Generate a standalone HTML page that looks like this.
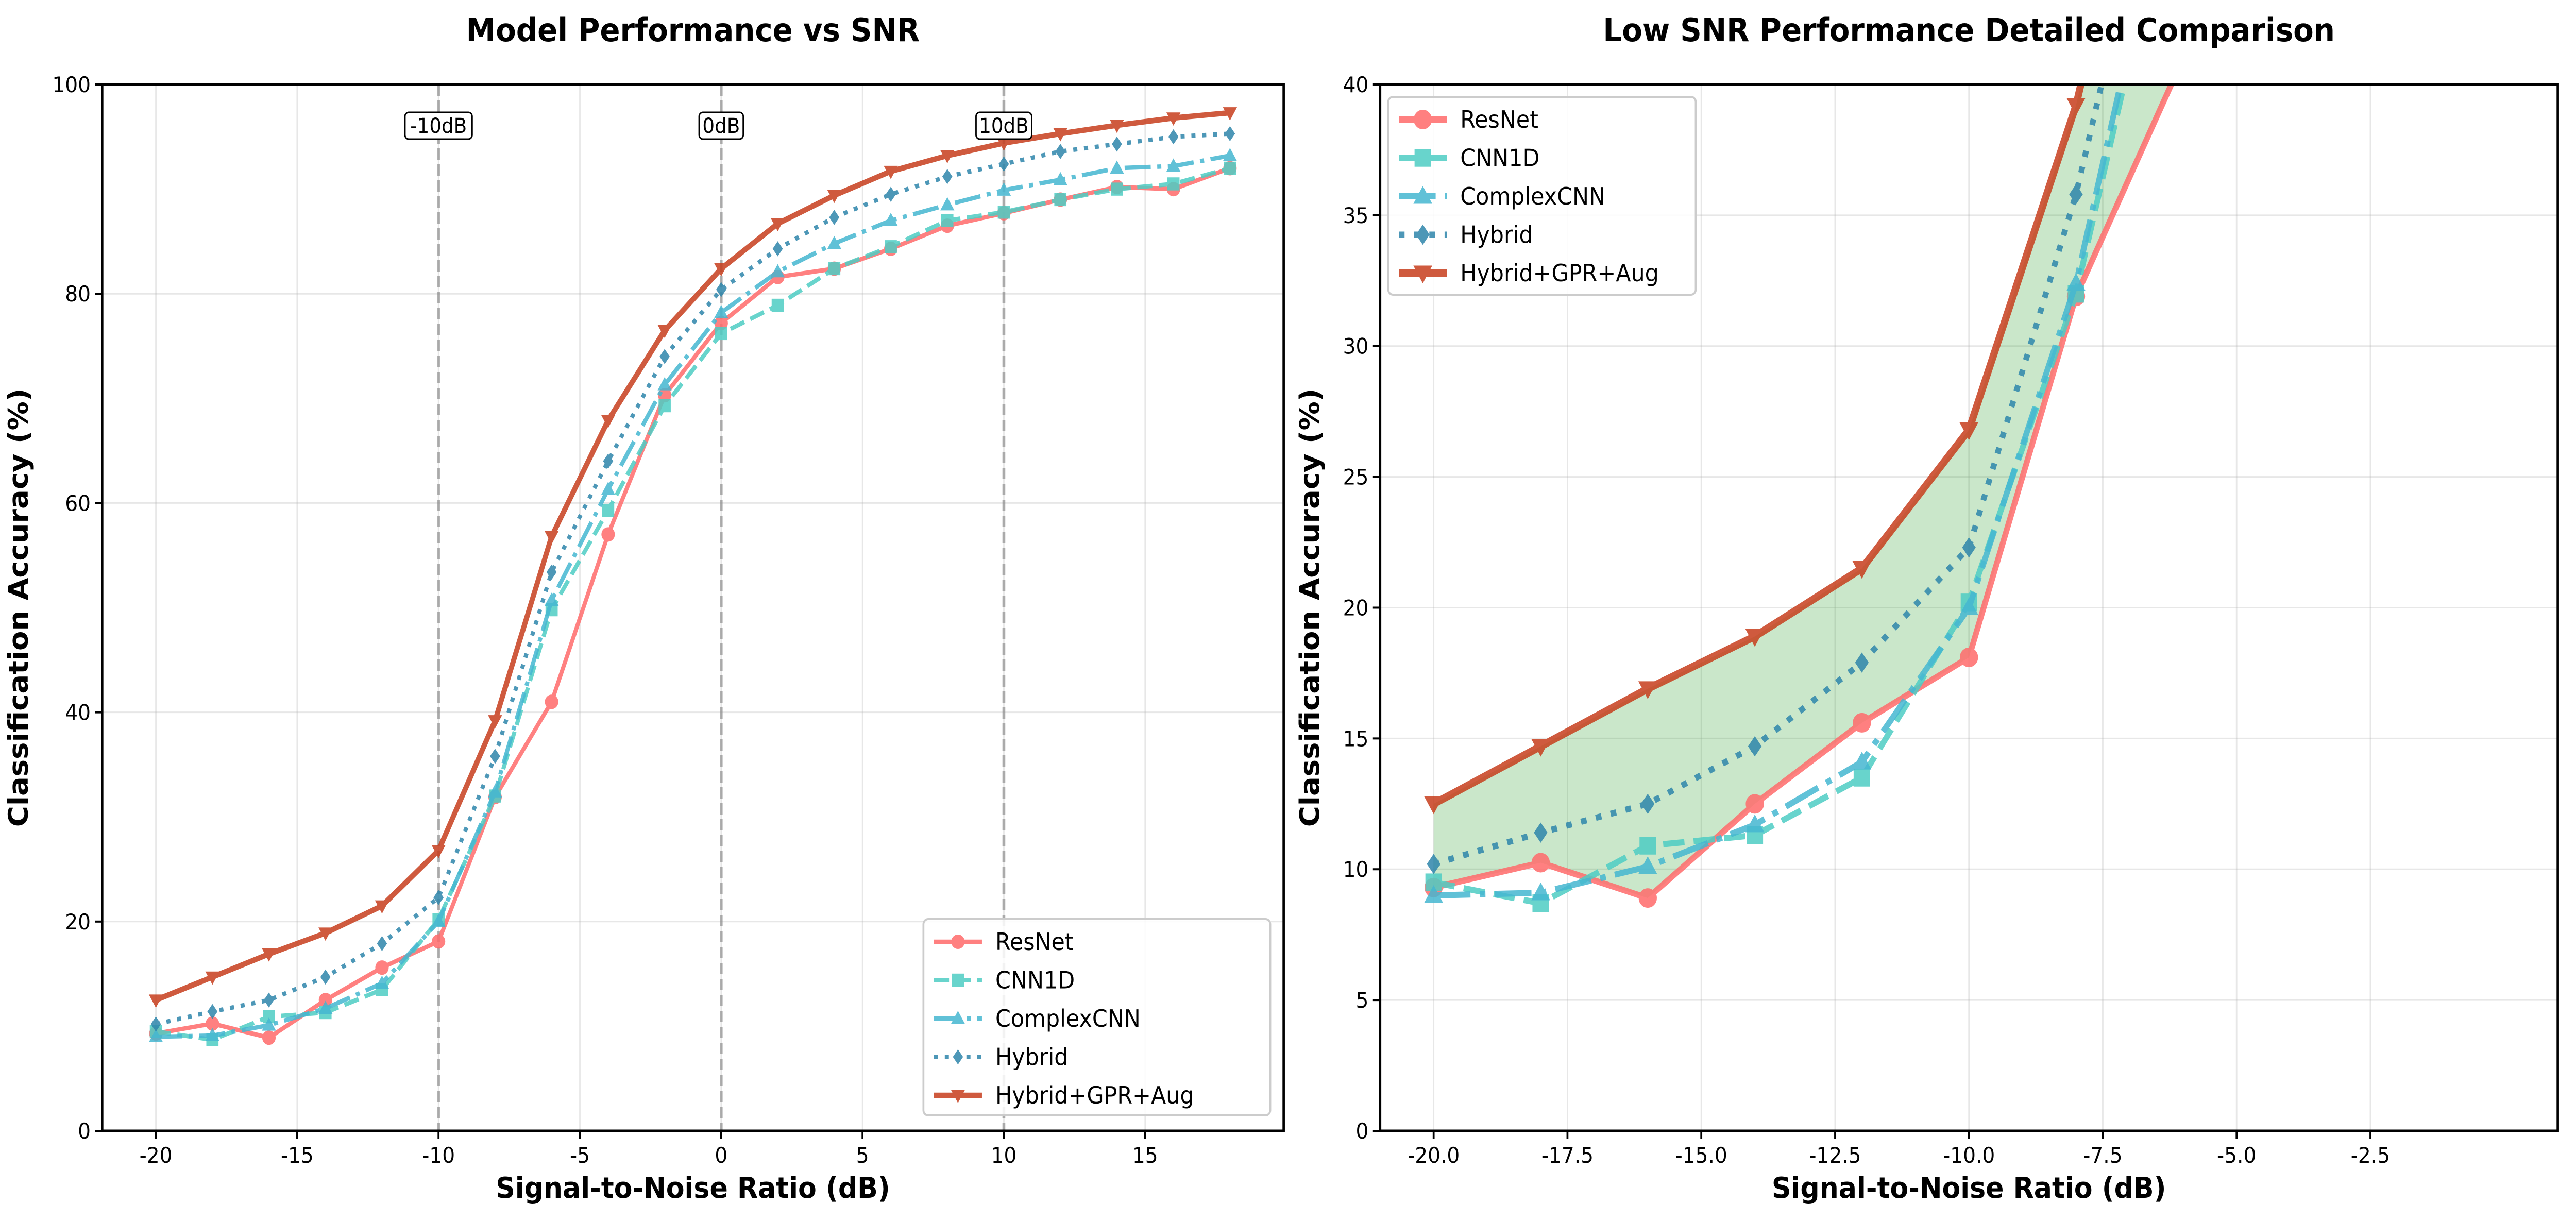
<!DOCTYPE html>
<html><head><meta charset="utf-8"><style>
html,body{margin:0;padding:0;background:#fff;width:100%;height:100%;overflow:hidden;}
svg{display:block;width:100vw;height:100vh;font-family:"DejaVu Sans","Liberation Sans",sans-serif;}
</style></head><body>
<svg id="fig" viewBox="0 0 5370 2370" preserveAspectRatio="none" xmlns="http://www.w3.org/2000/svg" overflow="hidden">
<rect width="5370" height="2370" fill="#fff"/>
</svg>
<script>
const snr = [-20,-18,-16,-14,-12,-10,-8,-6,-4,-2,0,2,4,6,8,10,12,14,16,18];
const resnet = [9.3,10.25,8.9,12.5,15.6,18.1,31.9,41.0,57.0,70.3,77.2,81.6,82.4,84.3,86.5,87.7,89.0,90.2,90.0,92.0];
const cnn1d = [9.5,8.7,10.9,11.3,13.5,20.2,32.0,49.8,59.3,69.3,76.2,78.9,82.4,84.5,87.0,87.8,89.0,90.0,90.5,92.0];
const complexcnn = [9.0,9.1,10.1,11.7,14.1,20.0,32.4,50.7,61.3,71.3,78.2,82.1,84.8,87.0,88.5,89.9,90.9,92.0,92.2,93.2];
const hybrid = [10.2,11.4,12.5,14.7,17.9,22.3,35.8,53.4,64.0,74.0,80.4,84.3,87.3,89.5,91.2,92.4,93.6,94.3,95.0,95.3];
const hybridGpr = [12.5,14.7,16.9,18.9,21.5,26.8,39.2,56.8,67.9,76.5,82.4,86.7,89.4,91.7,93.2,94.4,95.3,96.1,96.8,97.3];
const leftXTicks = [-20,-15,-10,-5,0,5,10,15];
const leftYTicks = [0,20,40,60,80,100];
const rightXTicks = [-20,-17.5,-15,-12.5,-10,-7.5,-5,-2.5];
const rightYTicks = [0,5,10,15,20,25,30,35,40];
const refLines = [-10,0,10];
const refLabels = ["-10dB","0dB","10dB"];

const NS="http://www.w3.org/2000/svg";
const svg=document.getElementById('fig');
function mk(tag,attrs,parent){const e=document.createElementNS(NS,tag);for(const k in attrs)e.setAttribute(k,attrs[k]);(parent||svg).appendChild(e);return e;}

const seriesDefs=[
 {name:"ResNet",data:resnet,color:"#FF6B6B",dash:null,marker:"o",key:"resnet"},
 {name:"CNN1D",data:cnn1d,color:"#4ECDC4",dash:[3.7,1.6],marker:"s",key:"cnn1d"},
 {name:"ComplexCNN",data:complexcnn,color:"#45B7D1",dash:[6.4,1.6,1,1.6],marker:"^",key:"complexcnn"},
 {name:"Hybrid",data:hybrid,color:"#2E86AB",dash:[1,1.65],marker:"D",key:"hybrid"},
 {name:"Hybrid+GPR+Aug",data:hybridGpr,color:"#C73E1D",dash:null,marker:"v",key:"hybrid-gpr-aug"}
];

function marker(g,type,x,y,size,color,name){
  const r=size/2;let e;
  if(type==="o") e=mk('circle',{cx:x,cy:y,r:r},g);
  else if(type==="s") e=mk('rect',{x:x-r*0.9,y:y-r*0.9,width:r*1.8,height:r*1.8},g);
  else if(type==="^") e=mk('polygon',{points:`${x},${y-r} ${x-r},${y+r*0.75} ${x+r},${y+r*0.75}`},g);
  else if(type==="v") e=mk('polygon',{points:`${x},${y+r} ${x-r},${y-r*0.75} ${x+r},${y-r*0.75}`},g);
  else e=mk('polygon',{points:`${x},${y-r} ${x+r*0.72},${y} ${x},${y+r} ${x-r*0.72},${y}`},g);
  e.setAttribute('fill',color);e.setAttribute('stroke',color);e.setAttribute('stroke-width',2);
  
  
  return e;
}

function clipSeg(x0,y0,x1,y1,L,T,R,B){
  let t0=0,t1=1;const dx=x1-x0,dy=y1-y0;
  const p=[-dx,dx,-dy,dy],q=[x0-L,R-x0,y0-T,B-y0];
  for(let i=0;i<4;i++){
    if(p[i]===0){if(q[i]<0)return null;}
    else{const r=q[i]/p[i];if(p[i]<0){if(r>t1)return null;if(r>t0)t0=r;}else{if(r<t0)return null;if(r<t1)t1=r;}}
  }
  return [x0+t0*dx,y0+t0*dy,x0+t1*dx,y0+t1*dy];
}
function clippedPath(pts,L,T,R,B){
  let d="",last=null;
  for(let i=0;i<pts.length-1;i++){
    const c=clipSeg(pts[i][0],pts[i][1],pts[i+1][0],pts[i+1][1],L,T,R,B);
    if(!c){last=null;continue;}
    if(!last||Math.abs(last[0]-c[0])>0.01||Math.abs(last[1]-c[1])>0.01) d+=`M${c[0].toFixed(2)},${c[1].toFixed(2)}`;
    d+=`L${c[2].toFixed(2)},${c[3].toFixed(2)}`;
    last=[c[2],c[3]];
  }
  return d;
}
function clipPoly(poly,L,T,R,B){
  const edges=[[p=>p[0]>=L,(a,b)=>{const t=(L-a[0])/(b[0]-a[0]);return [L,a[1]+t*(b[1]-a[1])];}],
               [p=>p[0]<=R,(a,b)=>{const t=(R-a[0])/(b[0]-a[0]);return [R,a[1]+t*(b[1]-a[1])];}],
               [p=>p[1]>=T,(a,b)=>{const t=(T-a[1])/(b[1]-a[1]);return [a[0]+t*(b[0]-a[0]),T];}],
               [p=>p[1]<=B,(a,b)=>{const t=(B-a[1])/(b[1]-a[1]);return [a[0]+t*(b[0]-a[0]),B];}]];
  let out=poly;
  for(const [inside,inter] of edges){
    const inp=out;out=[];if(!inp.length)break;
    for(let i=0;i<inp.length;i++){
      const cur=inp[i],prev=inp[(i+inp.length-1)%inp.length];
      if(inside(cur)){if(!inside(prev))out.push(inter(prev,cur));out.push(cur);}
      else if(inside(prev))out.push(inter(prev,cur));
    }
  }
  return out;
}

function panel(cfg){
  const {L,R,T,B,xmin,xmax,ymin,ymax,xTicks,yTicks,xFmt,lw,ms,id}=cfg;
  const sx=v=>L+(v-xmin)/(xmax-xmin)*(R-L);
  const sy=v=>B-(v-ymin)/(ymax-ymin)*(B-T);
  const g=mk('g',{});
  
  
  const clipId=id+'-clip';
  const cp=mk('clipPath',{id:clipId},g);mk('rect',{x:L,y:T,width:R-L,height:B-T},cp);
  xTicks.forEach(t=>{const l=mk('line',{x1:sx(t),x2:sx(t),y1:T,y2:B,stroke:"#b0b0b0","stroke-opacity":0.3,"stroke-width":3},g);
    });
  yTicks.forEach(t=>{const l=mk('line',{x1:L,x2:R,y1:sy(t),y2:sy(t),stroke:"#b0b0b0","stroke-opacity":0.3,"stroke-width":3},g);
    });
  const plot=mk('g',{'clip-path':`url(#${clipId})`},g);
  
  
  if(cfg.fill){
    const a=snr.map((x,i)=>[sx(x),sy(resnet[i])]);
    const b=snr.map((x,i)=>[sx(x),sy(hybridGpr[i])]).reverse();
    const poly=clipPoly(a.concat(b),L,T,R,B);
    const f=mk('polygon',{points:poly.map(p=>p[0].toFixed(2)+','+p[1].toFixed(2)).join(' '),fill:"#2ca02c","fill-opacity":0.25,stroke:"none"},plot);
    
    
  }
  if(cfg.refs){
    refLines.forEach((v,i)=>{const l=mk('line',{x1:sx(v),x2:sx(v),y1:T,y2:B,stroke:"#808080","stroke-opacity":0.6,"stroke-width":6,"stroke-dasharray":"22 9"},plot);
      });
  }
  seriesDefs.forEach(s=>{
    const sg=mk('g',{opacity:0.85},plot);
    
    
    const pts=snr.map((x,i)=>[sx(x),sy(s.data[i])]);
    const pl=mk('path',{d:clippedPath(pts,L,T,R,B),fill:"none",stroke:s.color,"stroke-width":s.key==="hybrid-gpr-aug"?lw*1.25:lw,"stroke-linejoin":"round"},sg);
    if(s.dash) pl.setAttribute('stroke-dasharray',s.dash.map(d=>d*lw).join(' '));
    
    
    pts.forEach(p=>{if(p[0]>=L&&p[0]<=R&&p[1]>=T&&p[1]<=B) marker(sg,s.marker,p[0],p[1],ms,s.color,s.key+'-point');});
  });
  if(cfg.refs){
    refLines.forEach((v,i)=>{
      const w=refLabels[i].length*24+20;
      const r=mk('rect',{x:sx(v)-w/2,y:218,width:w,height:52,rx:8,fill:"#fff",stroke:"#000","stroke-width":3},g);
      
      const t=mk('text',{x:sx(v),y:258,"font-size":40,"text-anchor":"middle",fill:"#000"},g);t.textContent=refLabels[i];
      
    });
  }
  const fr=mk('rect',{x:L,y:T,width:R-L,height:B-T,fill:"none",stroke:"#000","stroke-width":5},g);
  
  xTicks.forEach(t=>{mk('line',{x1:sx(t),x2:sx(t),y1:B,y2:B+15,stroke:"#000","stroke-width":4},g);
    const tx=mk('text',{x:sx(t),y:B+62,"font-size":42,"text-anchor":"middle"},g);tx.textContent=xFmt(t);
    });
  yTicks.forEach(t=>{mk('line',{x1:L-15,x2:L,y1:sy(t),y2:sy(t),stroke:"#000","stroke-width":4},g);
    const tx=mk('text',{x:L-24,y:sy(t)+15,"font-size":42,"text-anchor":"end"},g);tx.textContent=t;
    });
  const cx=(L+R)/2;
  const ti=mk('text',{x:cx,y:80,"font-size":62,"font-weight":"bold","text-anchor":"middle"},g);ti.textContent=cfg.title;
  
  const xl=mk('text',{x:cx,y:2325,"font-size":56,"font-weight":"bold","text-anchor":"middle"},g);xl.textContent="Signal-to-Noise Ratio (dB)";
  
  const yx=L-(id==="left"?155:127);
  const yl=mk('text',{x:yx,y:(T+B)/2,"font-size":56,"font-weight":"bold","text-anchor":"middle",transform:`rotate(-90 ${yx} ${(T+B)/2})`},g);yl.textContent="Classification Accuracy (%)";
  
  const lg=mk('g',{},g);
  
  
  const {lx,ly,lwid,lh}=cfg.legend;
  mk('rect',{x:lx,y:ly,width:lwid,height:lh,rx:10,fill:"#fff","fill-opacity":0.85,stroke:"#ccc","stroke-width":4},lg);
  seriesDefs.forEach((s,i)=>{
    const yy=ly+44+i*74.5;
    const e=mk('g',{opacity:0.85},lg);
    
    
    const ln=mk('line',{x1:lx+22,x2:lx+122,y1:yy,y2:yy,stroke:s.color,"stroke-width":s.key==="hybrid-gpr-aug"?lw*1.25:lw},e);
    if(s.dash) ln.setAttribute('stroke-dasharray',s.dash.map(d=>d*lw).join(' '));
    marker(e,s.marker,lx+72,yy,ms,s.color,'legend-marker');
    const t=mk('text',{x:lx+150,y:yy+16,"font-size":46,fill:"#000"},lg);t.textContent=s.name;
    
  });
}

panel({id:"left",L:213,R:2676,T:164,B:2195,xmin:-21.9,xmax:19.9,ymin:0,ymax:100,xTicks:leftXTicks,yTicks:leftYTicks,
  xFmt:t=>String(t),lw:8.5,ms:26,refs:true,fill:false,title:"Model Performance vs SNR",
  legend:{lx:1925,ly:1784,lwid:723,lh:381}});
panel({id:"right",L:2877,R:5332,T:164,B:2195,xmin:-21,xmax:1,ymin:0,ymax:40,xTicks:rightXTicks,yTicks:rightYTicks,
  xFmt:t=>t.toFixed(1),lw:12,ms:36,refs:false,fill:true,title:"Low SNR Performance Detailed Comparison",
  legend:{lx:2894,ly:188,lwid:641,lh:384}});
</script>
</body></html>
